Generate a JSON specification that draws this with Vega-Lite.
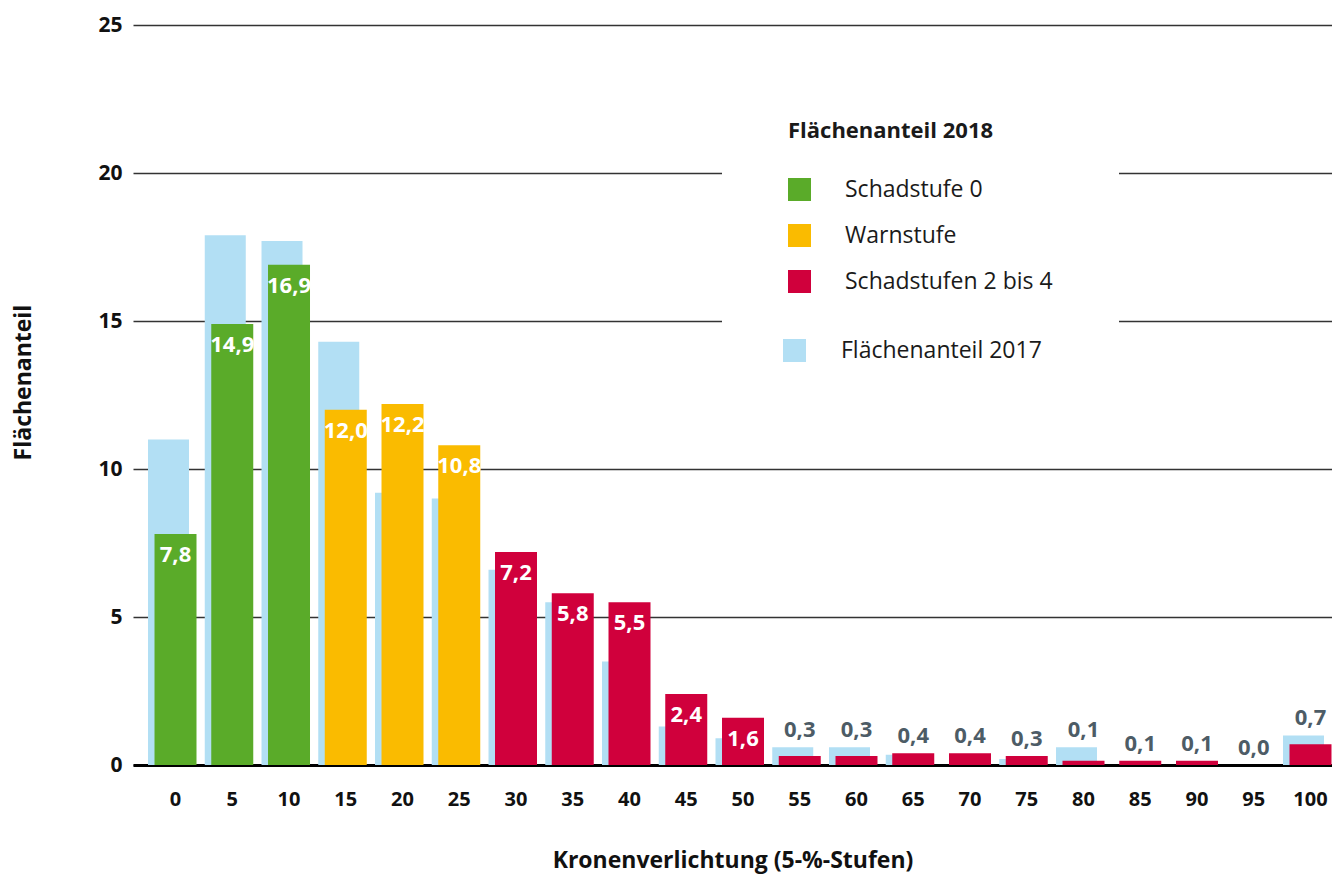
{
  "$schema": "https://vega.github.io/schema/vega-lite/v6.json",
  "width": 1199,
  "height": 740,
  "autosize": {"type": "none"},
  "padding": {"left": 133, "top": 25, "right": 0, "bottom": 116},
  "background": "white",
  "data": {
    "values": [
      {"cat": 0, "v2017": 11.0, "v2018": 7.8, "stufe": "Schadstufe 0"},
      {"cat": 5, "v2017": 17.9, "v2018": 14.9, "stufe": "Schadstufe 0"},
      {"cat": 10, "v2017": 17.7, "v2018": 16.9, "stufe": "Schadstufe 0"},
      {"cat": 15, "v2017": 14.3, "v2018": 12.0, "stufe": "Warnstufe"},
      {"cat": 20, "v2017": 9.2, "v2018": 12.2, "stufe": "Warnstufe"},
      {"cat": 25, "v2017": 9.0, "v2018": 10.8, "stufe": "Warnstufe"},
      {"cat": 30, "v2017": 6.6, "v2018": 7.2, "stufe": "Schadstufen 2 bis 4"},
      {"cat": 35, "v2017": 5.5, "v2018": 5.8, "stufe": "Schadstufen 2 bis 4"},
      {"cat": 40, "v2017": 3.5, "v2018": 5.5, "stufe": "Schadstufen 2 bis 4"},
      {"cat": 45, "v2017": 1.3, "v2018": 2.4, "stufe": "Schadstufen 2 bis 4"},
      {"cat": 50, "v2017": 0.9, "v2018": 1.6, "stufe": "Schadstufen 2 bis 4"},
      {"cat": 55, "v2017": 0.6, "v2018": 0.3, "stufe": "Schadstufen 2 bis 4"},
      {"cat": 60, "v2017": 0.6, "v2018": 0.3, "stufe": "Schadstufen 2 bis 4"},
      {"cat": 65, "v2017": 0.35, "v2018": 0.4, "stufe": "Schadstufen 2 bis 4"},
      {"cat": 70, "v2017": 0.0, "v2018": 0.4, "stufe": "Schadstufen 2 bis 4"},
      {"cat": 75, "v2017": 0.2, "v2018": 0.3, "stufe": "Schadstufen 2 bis 4"},
      {"cat": 80, "v2017": 0.6, "v2018": 0.14, "stufe": "Schadstufen 2 bis 4"},
      {"cat": 85, "v2017": 0.0, "v2018": 0.14, "stufe": "Schadstufen 2 bis 4"},
      {"cat": 90, "v2017": 0.0, "v2018": 0.14, "stufe": "Schadstufen 2 bis 4"},
      {"cat": 95, "v2017": 0.0, "v2018": 0.0, "stufe": "Schadstufen 2 bis 4"},
      {"cat": 100, "v2017": 1.0, "v2018": 0.7, "stufe": "Schadstufen 2 bis 4"}
    ]
  },
  "encoding": {
    "x": {
      "field": "cat",
      "type": "ordinal",
      "scale": {"paddingInner": 0.26, "paddingOuter": 0.194, "align": 0.977},
      "axis": {
        "title": "Kronenverlichtung (5-%-Stufen)",
        "labelAngle": 0,
        "labelFont": "Open Sans",
        "labelFontWeight": "bold",
        "labelFontSize": 20,
        "labelColor": "#111111",
        "labelPadding": 24,
        "ticks": false,
        "domain": true,
        "domainColor": "#000000",
        "domainWidth": 3,
        "titleFont": "Open Sans",
        "titleFontWeight": "bold",
        "titleFontSize": 23,
        "titleColor": "#111111",
        "titlePadding": 40
      }
    }
  },
  "layer": [
    {
      "mark": {"type": "bar", "width": 41, "xOffset": -7},
      "encoding": {
        "y": {
          "field": "v2017",
          "type": "quantitative",
          "scale": {"domain": [0, 25], "nice": false},
          "axis": {
            "title": "Flächenanteil",
            "values": [0, 5, 10, 15, 20, 25],
            "grid": true,
            "gridColor": "#333333",
            "gridWidth": 1.3,
            "domain": false,
            "ticks": false,
            "labelFont": "Open Sans",
            "labelFontWeight": "bold",
            "labelFontSize": 21,
            "labelColor": "#111111",
            "labelPadding": 11,
            "titleFont": "Open Sans",
            "titleFontWeight": "bold",
            "titleFontSize": 23,
            "titleColor": "#111111",
            "titlePadding": 62,
            "titleY": 357
          }
        },
        "fill": {
          "datum": "Flächenanteil 2017",
          "scale": {"range": ["#b2dff4"]},
          "legend": {
            "title": null,
            "orient": "none",
            "legendX": 650,
            "legendY": 314,
            "zindex": 2,
            "padding": 0,
            "symbolType": "square",
            "symbolSize": 529,
            "symbolStrokeWidth": 0,
            "labelFont": "Open Sans",
            "labelFontSize": 23,
            "labelColor": "#1a1a1a",
            "labelOffset": 35,
            "labelLimit": 400
          }
        }
      }
    },
    {
      "mark": {"type": "bar"},
      "encoding": {
        "y": {"field": "v2018", "type": "quantitative", "scale": {"domain": [0, 25], "nice": false}},
        "color": {
          "field": "stufe",
          "type": "nominal",
          "scale": {
            "domain": ["Schadstufe 0", "Warnstufe", "Schadstufen 2 bis 4"],
            "range": ["#5aab29", "#fabb00", "#d0003c"]
          },
          "legend": {
            "title": "Flächenanteil 2018",
            "orient": "none",
            "legendX": 589,
            "legendY": 30,
            "zindex": 1,
            "fillColor": "white",
            "padding": 66,
            "symbolType": "square",
            "symbolSize": 529,
            "symbolStrokeWidth": 0,
            "symbolOpacity": 1,
            "labelFont": "Open Sans",
            "labelFontSize": 23,
            "labelColor": "#1a1a1a",
            "labelOffset": 34,
            "labelLimit": 400,
            "titleFont": "Open Sans",
            "titleFontSize": 22,
            "titleFontWeight": "bold",
            "titleColor": "#1a1a1a",
            "titleLimit": 400,
            "titlePadding": 35,
            "rowPadding": 22
          }
        }
      }
    },
    {
      "transform": [{"filter": "datum.cat <= 50"}],
      "mark": {
        "type": "text",
        "font": "Open Sans",
        "fontWeight": "bold",
        "fontSize": 22,
        "color": "white",
        "baseline": "middle",
        "dy": 21
      },
      "encoding": {
        "y": {"field": "v2018", "type": "quantitative", "scale": {"domain": [0, 25], "nice": false}},
        "text": {"field": "v2018", "type": "quantitative", "format": ".1f"}
      }
    },
    {
      "transform": [
        {"filter": "datum.cat >= 55"},
        {"fold": ["v2017", "v2018"], "as": ["serie", "wert"]},
        {
          "aggregate": [
            {"op": "max", "field": "wert", "as": "oben"},
            {"op": "max", "field": "v2018", "as": "w2018"}
          ],
          "groupby": ["cat"]
        }
      ],
      "mark": {
        "type": "text",
        "font": "Open Sans",
        "fontWeight": "bold",
        "fontSize": 22,
        "color": "#4d5c66",
        "baseline": "middle",
        "dy": -17
      },
      "encoding": {
        "y": {"field": "oben", "type": "quantitative", "scale": {"domain": [0, 25], "nice": false}},
        "text": {"field": "w2018", "type": "quantitative", "format": ".1f"}
      }
    }
  ],
  "config": {
    "view": {"stroke": null},
    "locale": {
      "number": {"decimal": ",", "thousands": ".", "grouping": [3], "currency": ["", " €"]}
    }
  }
}
